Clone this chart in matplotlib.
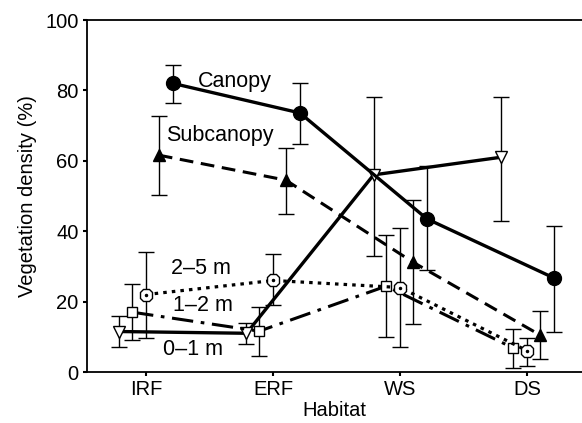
import numpy as np
import matplotlib
matplotlib.use('Agg')
import matplotlib.pyplot as plt

plt.rcParams['font.family'] = ['Liberation Sans', 'DejaVu Sans']

habitats = ['IRF', 'ERF', 'WS', 'DS']

# means and error bar ends (lower, upper)
canopy = [82, 73.6, 43.5, 26.7]
canopy_lo = [76.4, 64.8, 29, 11.4]
canopy_hi = [87.2, 82, 58.5, 41.5]

subcanopy = [61.6, 54.5, 31.2, 10.5]
subcanopy_lo = [50.3, 44.9, 13.6, 3.7]
subcanopy_hi = [72.7, 63.6, 48.9, 17.3]

m25 = [22, 26, 24, 6]
m25_lo = [9.6, 19, 7, 1.7]
m25_hi = [34, 33.5, 41, 9.7]

m12 = [17, 11.6, 24.4, 6.8]
m12_lo = [9, 4.5, 10, 1]
m12_hi = [25, 18.5, 39, 12.2]

m01 = [11.5, 11, 56, 61]
m01_lo = [7, 8, 33, 43]
m01_hi = [16, 14, 78, 78]

fig = plt.figure(figsize=(5.82, 4.23), dpi=100)
ax = fig.add_axes([87/582, 51/423, 495/582, 352/423])

x = np.arange(len(habitats))


def series(vals, lo, hi, off, ls, marker, mfc, ms, lw):
    xs = x + off
    vals = np.array(vals)
    err = [vals - np.array(lo), np.array(hi) - vals]
    ax.errorbar(xs, vals, yerr=err, fmt='none', ecolor='black',
                elinewidth=1, capsize=6, capthick=1, zorder=2)
    ax.plot(xs, vals, color='black', linestyle=ls, linewidth=lw,
            marker=marker, markersize=ms, markerfacecolor=mfc,
            markeredgecolor='black', markeredgewidth=1, zorder=3)
    return xs


series(m01, m01_lo, m01_hi, -0.21, '-', 'v', 'white', 8, 2.4)
series(m12, m12_lo, m12_hi, -0.11, (0, (7, 2.5, 1.2, 2.5)), 's', 'white', 7, 2.2)
xs25 = series(m25, m25_lo, m25_hi, 0.0, (0, (1.1, 1.6)), '8', 'white', 10, 2.3)
ax.plot(xs25, m25, linestyle='none', marker='.', markersize=3, color='black', zorder=4)
series(subcanopy, subcanopy_lo, subcanopy_hi, 0.10, (0, (4.5, 2.5)), '^', 'black', 8, 2.2)
series(canopy, canopy_lo, canopy_hi, 0.21, '-', 'o', 'black', 10, 2.4)

ax.text(0.70, 82.5, 'Canopy', fontsize=15.5, ha='center', va='center')
ax.text(0.58, 67.3, 'Subcanopy', fontsize=15.5, ha='center', va='center')
ax.text(0.43, 29.5, '2\u20135 m', fontsize=15.5, ha='center', va='center')
ax.text(0.45, 19, '1\u20132 m', fontsize=15.5, ha='center', va='center')
ax.text(0.37, 6.3, '0\u20131 m', fontsize=15.5, ha='center', va='center')

ax.set_xlim(-0.465, 3.43)
ax.set_ylim(0, 100)
ax.set_xticks(x)
ax.set_xticklabels(habitats)
ax.set_yticks([0, 20, 40, 60, 80, 100])
ax.tick_params(axis='both', labelsize=14.5, length=3, width=1.5, direction='out', pad=3)
ax.spines['right'].set_visible(False)
for s in ['left', 'bottom', 'top']:
    ax.spines[s].set_linewidth(1.3)
ax.set_xlabel('Habitat', fontsize=14.5, labelpad=1)
ax.set_ylabel('Vegetation density (%)', fontsize=14.5, labelpad=6)

fig.savefig('out.png', dpi=100)
